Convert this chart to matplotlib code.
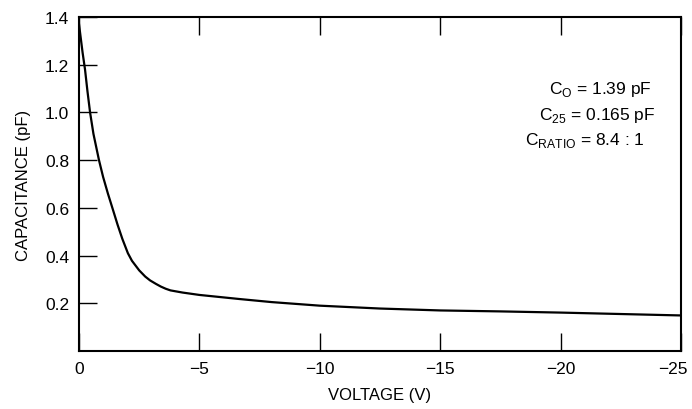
import matplotlib
matplotlib.use("Agg")
import matplotlib.pyplot as plt
import matplotlib.transforms as mtransforms

voltage = [0, -0.05, -0.1, -0.15, -0.25, -0.35, -0.46, -0.6, -0.83, -1.0, -1.2, -1.37,
           -1.6, -1.8, -2.03, -2.2, -2.5, -2.75, -2.95, -3.2, -3.4, -3.6, -3.8, -4.3,
           -5, -6.65, -8, -10, -12.5, -15, -17.5, -20, -22.5, -25]
capacitance = [1.37, 1.33, 1.29, 1.25, 1.18, 1.09, 1.0, 0.91, 0.8, 0.73, 0.66, 0.605,
               0.53, 0.47, 0.41, 0.378, 0.338, 0.312, 0.296, 0.281, 0.27, 0.261, 0.254, 0.245,
               0.235, 0.218, 0.205, 0.19, 0.178, 0.17, 0.166, 0.161, 0.155, 0.149]
xticks = [0, -5, -10, -15, -20, -25]
yticks = [0.2, 0.4, 0.6, 0.8, 1.0, 1.2, 1.4]

plt.rcParams['font.family'] = ['Liberation Sans', 'DejaVu Sans']
plt.rcParams['mathtext.fontset'] = 'custom'
plt.rcParams['mathtext.rm'] = 'Liberation Sans'

fig = plt.figure(figsize=(6.92, 4.10), dpi=100)
ax = fig.add_axes([79/692, 1 - 352/410, (681-79)/692, (352-18)/410])
ax.plot(voltage, capacitance, color='black', lw=1.6)
ax.set_xlim(0, -25)
ax.set_ylim(0, 1.4)
ax.set_xticks(xticks)
ax.set_yticks(yticks)
ax.set_yticklabels([f"{v:.1f}" for v in yticks])
ax.tick_params(axis='both', direction='in', length=13, width=1, labelsize=12.5,
               top=True, right=False, pad=7)
for s in ax.spines.values():
    s.set_linewidth(1.5)

# nudge the last x tick label slightly left so it stays inside the figure
last = ax.get_xticklabels()[-1]
last.set_transform(last.get_transform() +
                   mtransforms.ScaledTranslation(-8/100, 0, fig.dpi_scale_trans))

ax.set_xlabel('VOLTAGE (V)', fontsize=12, labelpad=8)
ax.set_ylabel('CAPACITANCE (pF)', fontsize=12, labelpad=10)

fs = 12.5
ax.text(-21.65, 1.1, r'C$_{\mathregular{O}}$ = 1.39 pF', ha='center', va='center', fontsize=fs)
ax.text(-21.5, 0.99, r'C$_{\mathregular{25}}$ = 0.165 pF', ha='center', va='center', fontsize=fs)
ax.text(-21.0, 0.885, r'C$_{\mathregular{RATIO}}$ = 8.4 : 1', ha='center', va='center', fontsize=fs)

fig.savefig('out.png', dpi=100)
